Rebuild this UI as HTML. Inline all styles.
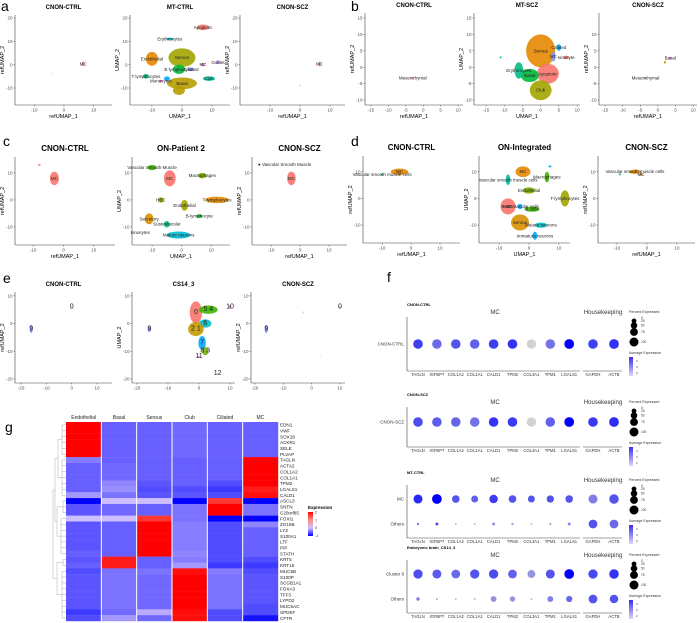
<!DOCTYPE html>
<html><head><meta charset="utf-8"><style>
html,body{margin:0;padding:0;background:#fff}
svg{display:block;font-family:"Liberation Sans",sans-serif}
</style></head><body>
<svg id="fig" width="700" height="623" viewBox="0 0 700 623" xmlns="http://www.w3.org/2000/svg"></svg>
<script>
// ---------- UMAP cluster data (data coordinates) ----------
const a1X=[6.5,-4],a1Y=[0.3,-4],a1RX=[0.4,0.2],a1RY=[1,0.3],a1L=['MC',''];
const a2X=[7,-4,-10,0,0,-1,3,-12,-5,9,-7,7,12,-1],a2Y=[16,11,2.5,3,-8,-2,-2,-5,-6,-6,-7,0,1,-11],
a2RX=[2,1.2,2,4.5,5,2,1,1,1,2,0.6,0.5,0.6,2],a2RY=[1.2,0.6,3,4,2.5,2,0.8,1,1,1,0.5,0.8,0.8,2],
a2L=['Apoptotic','Erythrocytes','Endothelial','Serous','Basal','B lymphocytes','Ciliated','T lymphocytes','','Club','Monocytes','MC','Goblet',''];
const a3X=[6.5,0],a3Y=[0.3,-9],a3RX=[0.4,0.4],a3RY=[1,0.2],a3L=['MC',''];
const b1X=[-3],b1Y=[-3.3],b1RX=[0.3],b1RY=[0.4],b1L=['Mesenchymal'];
const b2X=[0,2,-3,-6,0,5,7,3.5,-11],b2Y=[5,-2,-2.5,-1,-7,6,3,3.2,3],b2RX=[4,3,2.5,1.2,3,0.6,0.8,0.6,0.3],b2RY=[5,3,2,2.5,3,1,0.5,1.5,0.3],
b2L=['Serous','Apoptotic','Basal','Erythrocytes','Club','Ciliated','Ionocyte','MC',''];
const b3X=[2,3.5,-3.5],b3Y=[1.5,2.8,-3.3],b3RX=[0.3,0.3,0.3],b3RY=[0.4,0.4,0.4],b3L=['','Basal','Mesenchymal'];
const c1X=[-3,-8],c1Y=[8,13],c1RX=[1.5,0.5],c1RY=[2.5,0.3],c1L=['MC',''];
const c2X=[-10,-4,7,12,1,-7,-11,6,-5,-1,-14],c2Y=[12,8,9,0,-2,0,-7,-6,-9,-13,-12],c2RX=[1.5,2,1.5,4,1.2,1,1.5,1,1,4,0.2],c2RY=[1,3,1,1.2,2,1,2,0.7,1.2,1.3,0.2],
c2L=['Vascular Smooth Muscle','MC','Macrophages','T-lymphocytes','Endothelial','HBC','Secretory','B-lymphocyte','Sustentacular','Mature neurons','Ionocytes'];
const c3X=[-3],c3Y=[8],c3RX=[1.5],c3RY=[2.5],c3L=['MC'];
const d1X=[-4,-10],d1Y=[10,9],d1RX=[3,0.4],d1RY=[1.2,0.4],d1L=['MC','Vascular smooth muscle cells'];
const d2X=[-2,-7,6,0,12,-7,1,-3,-3,4,2,7],d2Y=[10,7,8,3,0,-3,-4,-3,-9,-10,-14,12],d2RX=[2.5,0.8,0.8,2,1.5,2.5,2.5,0.8,3,2,0.8,0.5],d2RY=[2,2,2,1.2,3,3,1,1,3,1,1.5,0.4],
d2L=['MC','Vascular smooth muscle cells','Macrophages','Endothelial','T-lymphocytes','HBC','B cells','Sustentacular cells','Serous','Mature neurons','Immature neurons',''];
const d3X=[-4,-2,-9],d3Y=[10,9,9],d3RX=[2,0.6,0.4],d3RY=[0.8,0.4,0.4],d3L=['Vascular smooth muscle cells','MC',''];
const e1X=[-16,0],e1Y=[-2,6],e1RX=[0.6,0.2],e1RY=[1.5,0.3],e1L=['9','0'];
const e2X=[-1,3,2,-1,1,2,-16,10,0,6],e2Y=[4,5,0,-2,-7,-10,-2,6,-12,-18],e2RX=[2,3,2,2.5,1.2,1,0.6,0.4,0.3,0.2],e2RY=[4,1.5,1.5,2.5,2.5,1.5,1,0.6,0.3,0.2],
e2L=['0','5  4','6','2    1','7','8  3','9','10','11','12'];
const e3X=[-16,10,-3,3],e3Y=[-2,6,4,-12],e3RX=[0.6,0.3,0.2,0.2],e3RY=[1.5,0.3,0.4,0.2],e3L=['9','0','',''];
// ---------- heatmap data ----------
const hmCols=['Endothelial','Basal','Serous','Club','Ciliated','MC'];
const hmGenes=['EDN1','VWF','SOX18','ACKR1','SELE','PLVAP','TAGLN','ACTA2','COL1A2','COL1A1','TPM2','LGALS1','CALD1','ASCL3','SNTN','C20orf85','FOXI1','ZG16B','LYZ','S100A1','LTF','PIP','STATH','KRT5','KRT15','MUC5B','S100P','SCGB1A1','FOXA3','TFF3','LYPD2','MUC5AC','SPDEF','CFTR'];
const hmVals=[
[2,-0.5,-0.5,-0.45,-0.5,-0.5],[2,-0.5,-0.5,-0.45,-0.5,-0.5],[2,-0.5,-0.5,-0.45,-0.5,-0.5],[2,-0.5,-0.5,-0.45,-0.5,-0.5],[2,-0.5,-0.5,-0.45,-0.5,-0.5],[2,-0.5,-0.5,-0.45,-0.5,-0.5],
[-0.35,-0.5,-0.5,-0.5,-0.5,2],[-0.5,-0.45,-0.5,-0.5,-0.5,2],[-0.5,-0.45,-0.5,-0.5,-0.5,2],[-0.5,-0.45,-0.5,-0.5,-0.5,2],[-0.5,-0.3,-0.55,-0.5,-0.6,2],[-0.5,-0.25,-0.6,-0.6,-0.7,1.8],[-0.2,-0.4,-0.55,-0.55,-0.6,1.9],
[-1,0,0,-1,1.6,-1],[-0.55,-0.45,-0.5,-0.4,2,-0.4],[-0.55,-0.45,-0.5,-0.4,2,-0.4],[0,0,1.6,-0.4,-1,-1],
[-0.55,-0.5,2,-0.35,-0.6,-0.3],[-0.55,-0.5,2,-0.35,-0.6,-0.5],[-0.55,-0.5,2,-0.35,-0.6,-0.5],[-0.55,-0.5,2,-0.35,-0.6,-0.5],[-0.55,-0.5,2,-0.35,-0.6,-0.5],[-0.5,-0.5,2,-0.3,-0.6,-0.5],
[-0.55,1.8,-0.5,-0.35,-0.6,-0.6],[-0.5,1.8,-0.5,-0.2,-0.7,-0.7],
[-0.6,-0.4,-0.4,1.9,-0.35,-0.6],[-0.55,-0.4,-0.45,2,-0.4,-0.55],[-0.55,-0.4,-0.45,2,-0.4,-0.55],[-0.55,-0.4,-0.45,2,-0.4,-0.55],[-0.55,-0.4,-0.45,2,-0.4,-0.55],[-0.55,-0.4,-0.45,2,-0.4,-0.55],[-0.55,-0.4,-0.45,2,-0.4,-0.6],
[-0.7,-0.45,-0.1,1.9,-0.6,-0.6],[-0.6,-0.2,-0.45,1.9,-0.6,-0.9]];
// ---------- dot plot data ----------
const dotGenes=['TAGLN','IGFBP7','COL1A2','COL1A1','CALD1','TPM2','COL3A1','TPM1','LGALS1','GAPDH','ACTB'];
const f1Pct=[[92,90,90,90,92,92,88,90,95,92,95]];
const f1Exp=[[3.5,2.5,3,2.7,3.5,3.8,0,2.3,5,3.5,3.8]];
const f2Pct=[[92,90,90,90,92,92,88,90,95,92,95]];
const f2Exp=[[3.2,2.8,2.6,2.3,3.8,3.6,0,2.7,5,3.7,3.9]];
const f3Pct=[[80,95,55,45,70,55,45,50,55,80,90],[3,6,1,1,4,3,1,3,5,75,75]];
const f3Exp=[[4,5,3,2.7,3.6,3,3,3,3,2,3],[2,3,1,1,2,1,1,1,2,3,2.5]];
const f4Pct=[[85,80,75,85,85,75,60,80,95,85,90],[8,2,1,1,30,25,1,30,35,75,70]];
const f4Exp=[[3.2,2.8,2.5,3,3.2,2.7,1.5,3,5,3.3,3.8],[2,1,1,1,1.5,1.5,1,2,2.5,3,3]];
const legendPct=[0,25,50,75,100];

const svg=document.getElementById('fig');
const NS='http://www.w3.org/2000/svg';
function el(tag,attrs,parent,txt){const e=document.createElementNS(NS,tag);for(const k in attrs)e.setAttribute(k,attrs[k]);if(txt!==undefined)e.textContent=txt;(parent||svg).appendChild(e);return e;}
function lin(d0,d1,r0,r1){return v=>r0+(v-d0)/(d1-d0)*(r1-r0);}

function umap(name,box,xd,yd,xt,yt,title,tsize,xlab,ylab,X,Y,RX,RY,L,cols,lsize){
  const g=el('g',{},svg);
  
  
  const [L0,T,R,B]=box;const sx=lin(xd[0],xd[1],L0,R),sy=lin(yd[0],yd[1],B,T);
  const t=el('text',{x:(L0+R)/2,y:T-6,'text-anchor':'middle','font-size':tsize,'font-weight':'bold',fill:'#000'},g,title);
  
  
  el('line',{x1:L0,y1:T,x2:L0,y2:B,stroke:'#444','stroke-width':0.6},g);
  el('line',{x1:L0,y1:B,x2:R,y2:B,stroke:'#444','stroke-width':0.6},g);
  xt.forEach(v=>{el('line',{x1:sx(v),x2:sx(v),y1:B,y2:B+1.5,stroke:'#444','stroke-width':0.5},g);el('text',{x:sx(v),y:B+6.5,'text-anchor':'middle','font-size':4.5,fill:'#4d4d4d'},g,String(v));});
  yt.forEach(v=>{el('line',{x1:L0,x2:L0-1.5,y1:sy(v),y2:sy(v),stroke:'#444','stroke-width':0.5},g);el('text',{x:L0-2.5,y:sy(v)+1.6,'text-anchor':'end','font-size':4.5,fill:'#4d4d4d'},g,String(v));});
  if(xlab){const xl=el('text',{x:(L0+R)/2,y:B+13,'text-anchor':'middle','font-size':5.5,fill:'#000'},g,xlab);}
  const yl=el('text',{x:0,y:0,'text-anchor':'middle','font-size':5.5,fill:'#000',transform:`translate(${L0-11},${(T+B)/2}) rotate(-90)`},g,ylab);
  
  
  for(let i=0;i<X.length;i++){
    const cx=sx(X[i]),cy=sy(Y[i]);
    const rx=Math.abs(sx(X[i]+RX[i])-cx),ry=Math.abs(sy(Y[i]+RY[i])-cy);
    const e=el('ellipse',{cx,cy,rx,ry,fill:cols[i],opacity:0.9},g);
    
    
    if(L[i]){const lt=el('text',{x:cx,y:cy+1.5,'text-anchor':'middle','font-size':lsize||4.5,fill:'#222'},g,L[i]);}
  }
}
function letter(t,x,y){const e=el('text',{x,y,'font-size':14,fill:'#000'},svg,t);}

letter('a',1,11);
umap('umap-a-cnon-ctrl',[15,15,112,105],[-16.5,16.2],[-17.3,21.3],[-10,0,10],[-10,0,10,20],'CNON-CTRL',6,'refUMAP_1','refUMAP_2',a1X,a1Y,a1RX,a1RY,a1L,['#f564e3','#ccc']);
umap('umap-a-mt-ctrl',[130,15,230,105],[-17.3,16],[-17.3,21.3],[-10,0,10],[-10,0,10,20],'MT-CTRL',6,'UMAP_1','UMAP_2',a2X,a2Y,a2RX,a2RY,a2L,['#f8766d','#00bfc4','#e58700','#a3a500','#b79f00','#00ba38','#8494ff','#00bf7d','#00a9ff','#00c19f','#fb61d7','#f564e3','#c77cff','#b79f00']);
umap('umap-a-cnon-scz',[240,15,345,105],[-20,15],[-17.3,21.3],[-10,0,10],[-10,0,10,20],'CNON-SCZ',6,'refUMAP_1','refUMAP_2',a3X,a3Y,a3RX,a3RY,a3L,['#f564e3','#f8a0c0']);
letter('b',351,11);
umap('umap-b-cnon-ctrl',[365,13,463,105],[-16.7,11.4],[-11.5,16.5],[-15,-10,-5,0,5,10],[-10,-5,0,5,10,15],'CNON-CTRL',6,'refUMAP_1','refUMAP_2',b1X,b1Y,b1RX,b1RY,b1L,['#f564e3']);
umap('umap-b-mt-scz',[474,13,580,105],[-18.3,10.8],[-11.5,16.5],[-15,-10,-5,0,5,10],[-10,-5,0,5,10,15],'MT-SCZ',6,'UMAP_1','UMAP_2',b2X,b2Y,b2RX,b2RY,b2L,['#e58700','#f8766d','#00ba38','#00bf7d','#a3a500','#00a9ff','#f8766d','#8494ff','#00c19f']);
umap('umap-b-cnon-scz',[599,13,697,105],[-16.7,11.1],[-11.5,16.5],[-15,-10,-5,0,5,10],[-10,-5,0,5,10],'CNON-SCZ',6,'refUMAP_1','refUMAP_2',b3X,b3Y,b3RX,b3RY,b3L,['#e58700','#f564e3','#c77cff']);
letter('c',3,146);
umap('umap-c-cnon-ctrl',[15,157,115,245],[-16,17],[-16.7,15.9],[-10,0,10],[-10,0,10],'CNON-CTRL',8,'refUMAP_1','refUMAP_2',c1X,c1Y,c1RX,c1RY,c1L,['#f8766d','#f8766d']);
umap('umap-c-on-patient2',[132,157,230,245],[-16.8,16.4],[-16.7,15.9],[-10,0,10],[-10,0,10],'ON-Patient 2',8,'UMAP_1','UMAP_2',c2X,c2Y,c2RX,c2RY,c2L,['#39b600','#f8766d','#7cae00','#e58700','#a3a500','#a3a500','#d89000','#00ba38','#00bf7d','#00bcd8','#f564e3']);
umap('umap-c-cnon-scz',[252,157,347,245],[-16.6,16.2],[-16.7,15.9],[-10,0,10],[-10,0,10],'CNON-SCZ',8,'refUMAP_1','refUMAP_2',c3X,c3Y,c3RX,c3RY,c3L,['#f8766d']);
const vsm=el('text',{x:258,y:166,'font-size':4.5,fill:'#222'},svg,'● Vascular Smooth Muscle');


letter('d',351,146);
umap('umap-d-cnon-ctrl',[363,156,460,243],[-16.6,16.9],[-16.7,15.9],[-10,0,10],[-10,0,10],'CNON-CTRL',8,'refUMAP_1','refUMAP_2',d1X,d1Y,d1RX,d1RY,d1L,['#e58700','#00bf7d']);
umap('umap-d-on-integrated',[479,156,570,243],[-16.7,13.7],[-16.7,15.9],[-10,0,10],[-10,0,10],'ON-Integrated',8,'UMAP_1','UMAP_2',d2X,d2Y,d2RX,d2RY,d2L,['#e58700','#00c19f','#39b600','#7cae00','#a3a500','#f8766d','#39b600','#00a9ff','#d89000','#00bfc4','#00a9ff','#00a9ff']);
umap('umap-d-cnon-scz',[598,156,695,243],[-16.3,16],[-16.7,15.9],[-10,0,10],[-10,0,10],'CNON-SCZ',8,'refUMAP_1','refUMAP_2',d3X,d3Y,d3RX,d3RY,d3L,['#e58700','#e58700','#00bf7d']);
letter('e',3,283);
umap('umap-e-cnon-ctrl',[15,292,112,383],[-22.4,15.9],[-21.5,11.4],[-20,-10,0,10],[-20,-10,0,10],'CNON-CTRL',6,'','refUMAP_2',e1X,e1Y,e1RX,e1RY,e1L,['#8494ff','#f8a0a0'],7);
umap('umap-e-cs14-3',[132,292,235,383],[-21.6,11.6],[-21.5,11.4],[-20,-10,0,10],[-20,-10,0,10],'CS14_3',6,'','UMAP_2',e2X,e2Y,e2RX,e2RY,e2L,['#f8766d','#39b600','#00bfc4','#c49a00','#00a9ff','#7cae00','#8494ff','#f564e3','#f564e3','#f8a0a0'],7);
umap('umap-e-cnon-scz',[251,292,345,383],[-21.4,11.8],[-21.5,11.4],[-20,-10,0,10],[-20,-10,0,10],'CNON-SCZ',6,'','refUMAP_2',e3X,e3Y,e3RX,e3RY,e3L,['#8494ff','#f8766d','#f8a0a0','#f8a0a0'],7);

// ---------- heatmap ----------
letter('g',5,432);
function hmColor(v){
  const stops=[[-1,[0,0,255]],[0,[205,190,255]],[1,[255,140,130]],[2,[255,0,0]]];
  for(let i=0;i<stops.length-1;i++){const [a,ca]=stops[i],[b,cb]=stops[i+1];if(v<=b){const t=Math.max(0,(v-a)/(b-a));return `rgb(${ca.map((c,k)=>Math.round(c+(cb[k]-c)*t)).join(',')})`;}}
  return 'rgb(255,0,0)';
}
const hmL=66,hmR=278,hmT=422,hmB=621;
const hx=lin(0,hmCols.length,hmL,hmR),hy=lin(0,hmGenes.length,hmT,hmB);
const hg=el('g',{},svg);


hmVals.forEach((row,r)=>row.forEach((v,c)=>{
  const rc=el('rect',{x:hx(c),y:hy(r),width:hx(c+1)-hx(c)+0.2,height:hy(r+1)-hy(r)+0.2,fill:hmColor(v)},hg);
  
  
}));
hmCols.forEach((c,i)=>{
  if(i>0)el('line',{x1:hx(i),x2:hx(i),y1:hmT,y2:hmB,stroke:'#fff','stroke-width':1},hg);
  const t=el('text',{x:(hx(i)+hx(i+1))/2,y:hmT-3,'text-anchor':'middle','font-size':5,fill:'#222'},hg,c);
  
  
});
hmGenes.forEach((gn,i)=>{
  const t=el('text',{x:hmR+2,y:(hy(i)+hy(i+1))/2+1.7,'font-size':4.6,fill:'#222'},hg,gn);
  
  
});
const dg=el('g',{stroke:'#999','stroke-width':0.4,fill:'none'},svg);


const groups=[[0,6],[6,13],[13,16],[16,23],[23,25],[25,34]];
const gx=[62,62,63,61,63,62];
groups.forEach((g,i)=>{const y0=hy(g[0])+2.9,y1=hy(g[1])-2.9;el('path',{d:`M${gx[i]},${y0}V${y1}`},dg);for(let r=g[0];r<g[1];r++){const y=hy(r)+2.9;el('path',{d:`M${gx[i]},${y}H66`},dg);}});
const gm=groups.map(g=>(hy(g[0])+hy(g[1]))/2);
el('path',{d:`M62,${gm[0]}H58V${gm[1]}H62 M63,${gm[2]}H57V${gm[3]}H61 M63,${gm[4]}H57V${gm[5]}H62 M58,${(gm[0]+gm[1])/2}H55V${(gm[2]+gm[3])/2}H57 M55,${(gm[0]+gm[1]+gm[2]+gm[3])/4}H53V${(gm[4]+gm[5])/2}H57`},dg);
const lg=el('g',{},svg);


el('text',{x:308,y:509,'font-size':4.5,'font-weight':'bold',fill:'#000'},lg,'Expression');
const lgVals=[2,1,0,-1];
const defs=el('defs',{},svg);const lgrad=el('linearGradient',{id:'hmgrad',x1:0,y1:0,x2:0,y2:1},defs);
lgVals.forEach((v,i)=>el('stop',{offset:i/3,'stop-color':hmColor(v)},lgrad));
el('rect',{x:308,y:512,width:5,height:24,fill:'url(#hmgrad)'},lg);
lgVals.forEach((v,i)=>el('text',{x:315,y:513.5+i*7.8,'font-size':3.8,fill:'#333'},lg,String(v)));

// ---------- dot plots ----------
letter('f',387,282);
const dotX0=418,dotStep=18.9,hkX=[593,614];
function dotCol(e){const t=Math.max(0,Math.min(1,e/5));return `rgb(${Math.round(211-211*t)},${Math.round(211-211*t)},${Math.round(211+44*t)})`;}
function dotR(p){return 0.4+Math.sqrt(p/100)*4.6;}
function legR(p){return 0.3+Math.sqrt(p/100)*4.2;}
const legOff=[0,3,7.5,14,24];
function dotplot(name,title,titleY,rows,rowY,pct,exp,bottom){
  const g=el('g',{},svg);
  
  
  el('text',{x:407,y:titleY,'font-size':4,'font-weight':'bold',fill:'#000'},g,title);
  el('text',{x:495,y:titleY+8,'text-anchor':'middle','font-size':6,fill:'#333'},g,'MC');
  el('text',{x:603,y:titleY+8,'text-anchor':'middle','font-size':6,fill:'#333'},g,'Housekeeping');
  el('line',{x1:407,x2:407,y1:titleY+11,y2:bottom,stroke:'#444','stroke-width':0.6},g);
  el('line',{x1:407,x2:580,y1:bottom,y2:bottom,stroke:'#444','stroke-width':0.6},g);
  el('line',{x1:583,x2:622,y1:bottom,y2:bottom,stroke:'#444','stroke-width':0.6},g);
  const xs=dotGenes.map((_,i)=>i<9?dotX0+i*dotStep:hkX[i-9]);
  dotGenes.forEach((gn,i)=>el('text',{x:xs[i],y:bottom+5,'text-anchor':'middle','font-size':4.2,fill:'#333'},g,gn));
  rows.forEach((rn,r)=>{
    el('text',{x:404,y:rowY[r]+1.5,'text-anchor':'end','font-size':4.5,fill:'#333'},g,rn);
    pct[r].forEach((p,i)=>{
      const c=el('circle',{cx:xs[i],cy:rowY[r],r:dotR(p),fill:dotCol(exp[r][i])},g);
      
      
    });
  });
  const ly=titleY+7;
  el('text',{x:629,y:ly,'font-size':3.6,fill:'#333'},g,'Percent Expressed');
  legendPct.forEach((p,i)=>{const cy=ly+5+legOff[i];el('circle',{cx:634,cy,r:legR(p),fill:'#000'},g);el('text',{x:641,y:cy+1.2,'font-size':3.2,fill:'#333'},g,String(p));});
  const ay=ly+41;
  el('text',{x:629,y:ay,'font-size':3.6,fill:'#333'},g,'Average Expression');
  const gid='dg'+name;const lgr=el('linearGradient',{id:gid,x1:0,y1:0,x2:0,y2:1},defs);
  el('stop',{offset:0,'stop-color':'#3a2df0'},lgr);el('stop',{offset:1,'stop-color':'#dcd8f4'},lgr);
  el('rect',{x:629,y:ay+3,width:4,height:19,fill:`url(#${gid})`},g);
  ['4','3','2'].forEach((t,i)=>el('text',{x:636,y:ay+8+i*6,'font-size':3,fill:'#333'},g,t));
}
dotplot('dotplot-cnon-ctrl','CNON-CTRL',306,['CNON-CTRL'],[344],f1Pct,f1Exp,371);
dotplot('dotplot-cnon-scz','CNON-SCZ',396,['CNON-SCZ'],[422],f2Pct,f2Exp,447);
dotplot('dotplot-mt-ctrl','MT-CTRL',474,['MC','Others'],[499,524],f3Pct,f3Exp,538);
dotplot('dotplot-embryonic','Embryonic brain_CS14_3',549,['Cluster 9','Others'],[574,599],f4Pct,f4Exp,613);
</script>
</body></html>
